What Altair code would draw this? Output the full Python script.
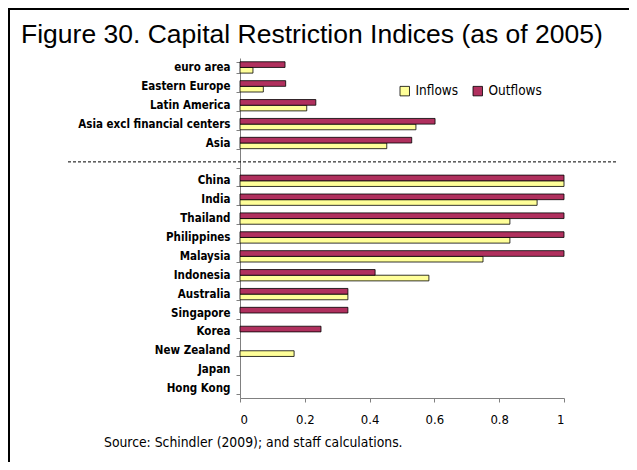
import altair as alt
import pandas as pd

categories = ["euro area", "Eastern Europe", "Latin America", "Asia excl financial centers", "Asia", " ",
              "China", "India", "Thailand", "Philippines", "Malaysia", "Indonesia", "Australia",
              "Singapore", "Korea", "New Zealand", "Japan", "Hong Kong"]
inflows = [0.040, 0.072, 0.206, 0.543, 0.453, None, 1.0, 0.917, 0.833, 0.833, 0.750, 0.583, 0.333,
           0.0, 0.0, 0.167, 0.0, 0.0]
outflows = [0.139, 0.141, 0.234, 0.602, 0.530, None, 1.0, 1.0, 1.0, 1.0, 1.0, 0.417, 0.333,
            0.333, 0.250, 0.0, 0.0, 0.0]
series = ["Inflows", "Outflows"]
colors = ["#FFFF99", "#B0305E"]
x_ticks = [0, 0.2, 0.4, 0.6, 0.8, 1.0]
title_text = "Figure 30. Capital Restriction Indices (as of 2005)"
source_text = "Source: Schindler (2009); and staff calculations."

rows = []
for c, i, o in zip(categories, inflows, outflows):
    if i is not None:
        rows.append({"country": c, "flow": "Inflows", "value": i})
    if o is not None:
        rows.append({"country": c, "flow": "Outflows", "value": o})
df = pd.DataFrame(rows)

LFONT = "DejaVu Sans Condensed, DejaVu Sans"

yscale = alt.Scale(domain=categories, paddingInner=0.4, paddingOuter=0.2)

bars = alt.Chart(df).transform_filter("datum.value > 0").mark_bar(
    stroke="black", strokeWidth=0.8
).encode(
    x=alt.X("value:Q", scale=alt.Scale(domain=[0, 1], nice=False),
            axis=alt.Axis(values=x_ticks, format="~g", title=None, grid=False,
                          domainColor="#808080", tickColor="#808080", tickSize=4,
                          labelFont=LFONT, labelFontSize=13, labelColor="black",
                          labelPadding=11)),
    y=alt.Y("country:N", scale=yscale,
            axis=alt.Axis(title=None, tickBand="extent", domainColor="#808080",
                          tickColor="#808080", tickSize=4, labelFont=LFONT,
                          labelFontWeight="bold", labelFontSize=11.5, labelColor="black",
                          labelLimit=300, labelPadding=6, grid=False)),
    yOffset=alt.YOffset("flow:N", sort=["Outflows", "Inflows"]),
    color=alt.Color("flow:N", scale=alt.Scale(domain=series, range=colors),
                    legend=alt.Legend(title=None, orient="none", legendX=158, legendY=26,
                                      direction="horizontal", symbolType="square",
                                      symbolSize=90, symbolStrokeColor="black",
                                      symbolStrokeWidth=0.8, labelFont=LFONT,
                                      labelFontSize=13.5, columnPadding=12,
                                      labelColor="black")),
)

sep = alt.Chart(pd.DataFrame({"country": [" "]})).mark_rule(
    color="black", strokeDash=[3, 2], strokeWidth=1
).encode(
    y=alt.Y("country:N", scale=yscale),
    x=alt.value(-172), x2=alt.value(378),
)

title = alt.Chart(pd.DataFrame({"t": [title_text]})).mark_text(
    align="left", baseline="alphabetic", font="Liberation Sans", fontSize=26.5, color="black"
).encode(x=alt.value(-219), y=alt.value(-15.5), text="t:N")

source = alt.Chart(pd.DataFrame({"t": [source_text]})).mark_text(
    align="left", baseline="middle", font=LFONT, fontSize=13.8, color="black"
).encode(x=alt.value(-136), y=alt.value(385), text="t:N")

frame = alt.Chart(pd.DataFrame({"a": [0]})).mark_rect(
    fill="transparent", stroke="black", strokeWidth=2
).encode(x=alt.value(-231), x2=alt.value(420), y=alt.value(-49), y2=alt.value(440))

chart = alt.layer(frame, sep, bars, title, source).properties(
    width=324, height=340,
    autosize=alt.AutoSizeParams(type="none"),
    padding={"left": 232, "top": 50, "right": 65, "bottom": 64},
).configure(background="white").configure_view(stroke="transparent", strokeWidth=0)

chart.save("out.html", embed_options={"renderer": "svg", "actions": False})
